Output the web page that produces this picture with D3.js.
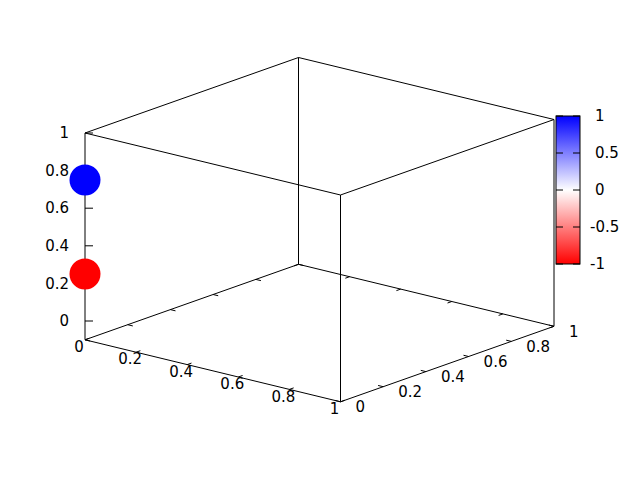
<!DOCTYPE html>
<html>
<head>
<meta charset="utf-8">
<script src="https://d3js.org/d3.v7.min.js"></script>
<style>
  body { margin: 0; background: #fff; }
  text { font-family: "DejaVu Sans", sans-serif; font-size: 15px; fill: #000; }
</style>
</head>
<body>
<div id="chart"></div>
<script>
  var width = 640, height = 480;

  // data: two points at x=0,y=0 coloured by value
  var px = [0, 0];
  var py = [0, 0];
  var pz = [0.25, 0.75];
  var pval = [-1, 1];

  var xTicks = [0, 0.2, 0.4, 0.6, 0.8, 1];
  var yTicks = [0, 0.2, 0.4, 0.6, 0.8, 1];
  var zTicks = [0, 0.2, 0.4, 0.6, 0.8, 1];
  var cbTicks = [-1, -0.5, 0, 0.5, 1];

  // projection built from linear scales
  var ox = 85, oy = 321;
  var xsx = d3.scaleLinear().domain([0, 1]).range([0, 255.5]);
  var xsy = d3.scaleLinear().domain([0, 1]).range([0, 62]);
  var ysx = d3.scaleLinear().domain([0, 1]).range([0, 213.5]);
  var ysy = d3.scaleLinear().domain([0, 1]).range([0, -75.5]);
  var zs = d3.scaleLinear().domain([0, 1]).range([0, -188]);
  var zbase = -0.1;   // ticslevel

  var proj = function(x, y, z) {
    return [ox + xsx(x) + ysx(y), oy + xsy(x) + ysy(y) + zs(z)];
  };

  var fmt = function(v) { return String(v); };  // plain hyphen minus like gnuplot

  var svg = d3.select("#chart").append("svg")
    .attr("width", width).attr("height", height);

  var line = function(a, b) {
    svg.append("line")
      .attr("x1", a[0]).attr("y1", a[1])
      .attr("x2", b[0]).attr("y2", b[1])
      .attr("stroke", "#000").attr("stroke-width", 1);
  };

  // box edges
  var corners = [[0, 0], [1, 0], [1, 1], [0, 1]];
  for (var i = 0; i < 4; i++) {
    var c = corners[i], n = corners[(i + 1) % 4];
    line(proj(c[0], c[1], zbase), proj(n[0], n[1], zbase));
    line(proj(c[0], c[1], 1), proj(n[0], n[1], 1));
    line(proj(c[0], c[1], zbase), proj(c[0], c[1], 1));
  }

  var tl = 0.02;
  // x tics on front edge (y=0) and mirror on y=1
  xTicks.forEach(function(t) {
    line(proj(t, 0, zbase), proj(t, tl, zbase));
    line(proj(t, 1, zbase), proj(t, 1 - tl, zbase));
    var p = proj(t, 0, zbase);
    svg.append("text").attr("x", p[0] - 6).attr("y", p[1] + 7)
      .attr("dy", "0.35em").attr("text-anchor", "middle").text(fmt(t));
  });

  // y tics on x=1 edge and mirror on x=0
  yTicks.forEach(function(t) {
    line(proj(1, t, zbase), proj(1 - tl, t, zbase));
    line(proj(0, t, zbase), proj(tl, t, zbase));
    var p = proj(1, t, zbase);
    svg.append("text").attr("x", p[0] + 15).attr("y", p[1] + 5)
      .attr("dy", "0.35em").attr("text-anchor", "start").text(fmt(t));
  });

  // z tics on the left vertical edge
  zTicks.forEach(function(t) {
    var p = proj(0, 0, t);
    line(p, [p[0] + 8, p[1]]);
    svg.append("text").attr("x", p[0] - 16).attr("y", p[1])
      .attr("dy", "0.35em").attr("text-anchor", "end").text(fmt(t));
  });

  // points
  var color = d3.scaleLinear().domain([-1, 0, 1]).range(["#ff0000", "#ffffff", "#0000ff"]);
  svg.selectAll("circle.pt").data(pz).enter().append("circle")
    .attr("class", "pt")
    .attr("cx", function(d, i) { return proj(px[i], py[i], d)[0]; })
    .attr("cy", function(d, i) { return proj(px[i], py[i], d)[1]; })
    .attr("r", 15.5)
    .attr("fill", function(d, i) { return color(pval[i]); });

  // colour box
  var cbx = 556, cbw = 24;
  var cy = d3.scaleLinear().domain([-1, 1]).range([264, 116]);
  var grad = svg.append("defs").append("linearGradient")
    .attr("id", "cbgrad").attr("x1", 0).attr("y1", 1).attr("x2", 0).attr("y2", 0);
  d3.range(0, 21).forEach(function(k) {
    var v = -1 + k / 10;
    grad.append("stop").attr("offset", (k / 20))
      .attr("stop-color", color(v));
  });
  svg.append("rect").attr("x", cbx).attr("y", cy(1))
    .attr("width", cbw).attr("height", cy(-1) - cy(1))
    .attr("fill", "url(#cbgrad)").attr("stroke", "#000").attr("stroke-width", 1);

  cbTicks.forEach(function(t) {
    var y = cy(t);
    line([cbx, y], [cbx + 7, y]);
    line([cbx + cbw - 7, y], [cbx + cbw, y]);
    svg.append("text").attr("x", 590 + (t >= 0 ? 5 : 0)).attr("y", y)
      .attr("dy", "0.35em").attr("text-anchor", "start").text(fmt(t));
  });
</script>
</body>
</html>
